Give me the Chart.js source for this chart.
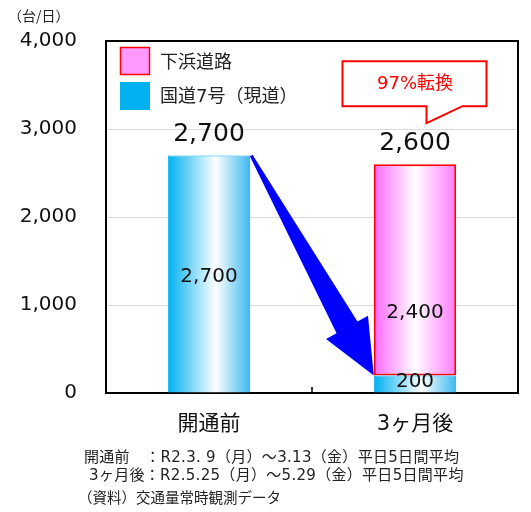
<!DOCTYPE html>
<html lang="ja">
<head>
<meta charset="utf-8">
<script src="https://cdn.jsdelivr.net/npm/chart.js"></script>
<style>
  html, body { margin: 0; padding: 0; background: #fff; }
  #wrap { position: relative; width: 531px; height: 512px; overflow: hidden; }
  #chart { position: absolute; left: 0; top: 0; }
  .note { position: absolute; font-family: 'DejaVu Sans', 'Noto Sans CJK JP', sans-serif; font-size: 15px; color: #222; white-space: pre; line-height: 18px; letter-spacing: 0.3px; }
  .unit { font-family: 'Noto Sans CJK JP', sans-serif; font-size: 14px; letter-spacing: 0; }
  .src { font-family: 'Noto Sans CJK JP', sans-serif; font-size: 14.5px; letter-spacing: 0; }
</style>
</head>
<body>
<div id="wrap">
  <canvas id="chart" width="531" height="512"></canvas>
  <div class="note unit" style="left:8px; top:6px;">（台/日）</div>
  <div class="note" style="left:84px; top:448px;">開通前　：R2.3. 9（月）～3.13（金）平日5日間平均
 3ヶ月後：R2.5.25（月）～5.29（金）平日5日間平均</div>
  <div class="note src" style="left:78px; top:488px;">（資料）交通量常時観測データ</div>
</div>
<script>
// データ
const categories = ['開通前', '3ヶ月後'];
const route7 = [2700, 200];          // 国道7号（現道）
const shimohama = [null, 2400];      // 下浜道路
const yTickValues = [0, 1000, 2000, 3000, 4000];
const legendNames = ['下浜道路', '国道7号（現道）'];
const calloutText = '97%転換';

const FONT = "'DejaVu Sans', 'Noto Sans CJK JP', sans-serif";
const BAR_PCT = 0.4;

const cyanStops = [[0, '#00b0f0'], [0.58, '#ffffff'], [1, '#3bb8f0']];
const pinkStops = [[0, '#ff66ff'], [0.5, '#ffffff'], [1, '#ff7aff']];

function fmt(v) { return v.toLocaleString('en-US'); }

// 棒ごとに横方向グラデーションを作る
function barGradient(chart, i, stops) {
    const { ctx, chartArea, scales } = chart;
    if (!chartArea || !scales.x) return stops[0][1];
    const cx = scales.x.getPixelForValue(i);
    const w = (chartArea.right - chartArea.left) / categories.length * BAR_PCT;
    const g = ctx.createLinearGradient(cx - w / 2, 0, cx + w / 2, 0);
    stops.forEach(s => g.addColorStop(s[0], s[1]));
    return g;
}

// 矢印・ラベル・吹き出し・凡例
const extras = {
    id: 'extras',
    afterDatasetsDraw(chart) {
        const { ctx, chartArea: a, scales: { x, y } } = chart;
        const m7 = chart.getDatasetMeta(0).data;
        const mS = chart.getDatasetMeta(1).data;

        // 枠（上・右）
        ctx.save();
        ctx.strokeStyle = '#000';
        ctx.lineWidth = 2;
        ctx.beginPath();
        ctx.moveTo(a.left, a.top);
        ctx.lineTo(a.right, a.top);
        ctx.lineTo(a.right, a.bottom);
        ctx.stroke();
        // 中央の目盛
        const mid = (x.getPixelForValue(0) + x.getPixelForValue(1)) / 2;
        ctx.lineWidth = 1.5;
        ctx.beginPath();
        ctx.moveTo(mid, a.bottom);
        ctx.lineTo(mid, a.bottom - 6);
        ctx.stroke();
        ctx.restore();

        // 青い矢印
        const b0 = m7[0], b1 = mS[1];
        const sx = b0.x + b0.width / 2 + 1, sy = b0.y;
        const tx = b1.x - b1.width / 2, ty = b1.base;
        const dx = tx - sx, dy = ty - sy, L = Math.hypot(dx, dy);
        const ux = dx / L, uy = dy / L, nx = -uy, ny = ux;
        const headLen = 55, headW = 24, shaftW = 12, startW = 1.5;
        const bx = tx - ux * headLen, by = ty - uy * headLen;
        ctx.save();
        ctx.fillStyle = '#0000ff';
        ctx.beginPath();
        ctx.moveTo(sx + nx * startW, sy + ny * startW);
        ctx.lineTo(bx + nx * shaftW, by + ny * shaftW);
        ctx.lineTo(bx + nx * headW, by + ny * headW);
        ctx.lineTo(tx, ty);
        ctx.lineTo(bx - nx * headW, by - ny * headW);
        ctx.lineTo(bx - nx * shaftW, by - ny * shaftW);
        ctx.lineTo(sx - nx * startW, sy - ny * startW);
        ctx.closePath();
        ctx.fill();
        ctx.restore();

        // 数値ラベル
        ctx.save();
        ctx.fillStyle = '#111';
        ctx.textAlign = 'center';
        ctx.textBaseline = 'middle';
        ctx.font = '20px ' + FONT;
        m7.forEach((el, i) => {
            const shift = i === 0 ? 3 : -2;
            ctx.fillText(fmt(route7[i]), el.x, (el.y + el.base) / 2 + shift);
        });
        mS.forEach((el, i) => {
            if (shimohama[i] == null) return;
            ctx.fillText(fmt(shimohama[i]), el.x, (el.y + el.base) / 2 + 43);
        });
        ctx.font = '25px ' + FONT;
        categories.forEach((c, i) => {
            const total = (route7[i] || 0) + (shimohama[i] || 0);
            ctx.fillText(fmt(total), x.getPixelForValue(i), y.getPixelForValue(total) - 21);
        });
        ctx.restore();

        // 吹き出し
        const cx = x.getPixelForValue(1);
        const topBar = y.getPixelForValue((route7[1] || 0) + (shimohama[1] || 0));
        const rT = topBar - 103, rB = topBar - 58, rL = cx - 72.5, rR = cx + 71.5;
        ctx.save();
        ctx.fillStyle = '#fff';
        ctx.strokeStyle = '#ff0000';
        ctx.lineWidth = 2;
        ctx.beginPath();
        ctx.moveTo(rL, rT);
        ctx.lineTo(rR, rT);
        ctx.lineTo(rR, rB);
        ctx.lineTo(cx + 47.5, rB);
        ctx.lineTo(cx + 11.5, topBar - 41);
        ctx.lineTo(cx + 11.5, rB);
        ctx.lineTo(rL, rB);
        ctx.closePath();
        ctx.fill();
        ctx.stroke();
        ctx.fillStyle = '#ff0000';
        ctx.font = '18px ' + FONT;
        ctx.textAlign = 'center';
        ctx.textBaseline = 'middle';
        ctx.fillText(calloutText, cx, (rT + rB) / 2 + 1);
        ctx.restore();

        // 凡例
        ctx.save();
        const lx = a.left + 14, ly = a.top + 6;
        ctx.fillStyle = '#ff99ff';
        ctx.fillRect(lx, ly, 30, 28);
        ctx.strokeStyle = '#ff0000';
        ctx.lineWidth = 1.5;
        ctx.strokeRect(lx + 0.5, ly + 0.5, 29, 27);
        ctx.fillStyle = '#00b0f0';
        ctx.fillRect(lx, ly + 35, 30, 28);
        ctx.fillStyle = '#222';
        ctx.font = '18px ' + FONT;
        ctx.textAlign = 'left';
        ctx.textBaseline = 'middle';
        ctx.fillText(legendNames[0], lx + 40, ly + 16);
        ctx.fillText(legendNames[1], lx + 40, ly + 50);
        ctx.restore();
    }
};

const ctx = document.getElementById('chart').getContext('2d');
new Chart(ctx, {
    type: 'bar',
    data: {
        labels: categories,
        datasets: [{
            label: legendNames[1],
            data: route7,
            backgroundColor: c => barGradient(c.chart, c.dataIndex, cyanStops),
            borderColor: '#00b0f0',
            borderWidth: 1,
            borderSkipped: 'start'
        }, {
            label: legendNames[0],
            data: shimohama,
            backgroundColor: c => barGradient(c.chart, c.dataIndex, pinkStops),
            borderColor: '#ff0000',
            borderWidth: 2,
            borderSkipped: false
        }]
    },
    options: {
        responsive: false,
        animation: false,
        layout: { padding: { top: 39, right: 13, left: 0, bottom: 0 } },
        plugins: {
            legend: { display: false },
            tooltip: { enabled: false }
        },
        datasets: { bar: { categoryPercentage: 1, barPercentage: BAR_PCT } },
        scales: {
            x: {
                stacked: true,
                grid: { display: false, drawTicks: false },
                border: { display: true, color: '#000', width: 2 },
                ticks: { color: '#111', font: { size: 21, family: FONT }, padding: 19 },
                afterFit: s => { s.height = 119; }
            },
            y: {
                stacked: true,
                min: 0,
                max: 4000,
                afterBuildTicks: s => { s.ticks = yTickValues.map(v => ({ value: v })); },
                grid: { color: '#d9d9d9', lineWidth: 1, drawTicks: false },
                border: { display: true, color: '#000', width: 2 },
                ticks: {
                    color: '#111',
                    font: { size: 20, family: FONT },
                    padding: 29,
                    callback: v => fmt(v)
                },
                afterFit: s => { s.width = 106; }
            }
        }
    },
    plugins: [extras]
});
</script>
</body>
</html>
